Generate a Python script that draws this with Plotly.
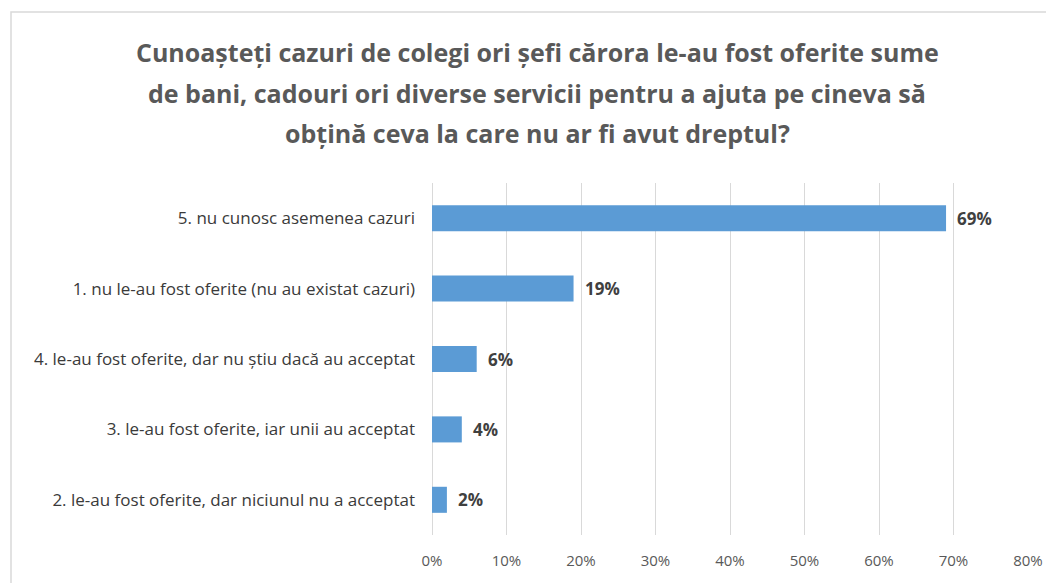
import plotly.graph_objects as go

categories = [
    "5. nu cunosc asemenea cazuri",
    "1. nu le-au fost oferite (nu au existat cazuri)",
    "4. le-au fost oferite, dar nu știu dacă au acceptat",
    "3. le-au fost oferite, iar unii au acceptat",
    "2. le-au fost oferite, dar niciunul nu a acceptat",
]
values = [69, 19, 6, 4, 2]
labels = ["69%", "19%", "6%", "4%", "2%"]
tick_vals = [0, 10, 20, 30, 40, 50, 60, 70, 80]
tick_text = ["0%", "10%", "20%", "30%", "40%", "50%", "60%", "70%", "80%"]
title_lines = [
    "Cunoașteți cazuri de colegi ori șefi cărora le-au fost oferite sume",
    "de bani, cadouri ori diverse servicii pentru a ajuta pe cineva să",
    "obțină ceva la care nu ar fi avut dreptul?",
]

FONT = "Open Sans, sans-serif"

# page body has an 8px margin; work in figure coordinates
W, H = 1046, 575
L, R, T, B = 424, 26, 175, 48
pw, ph = W - L - R, H - T - B


def px_x(x):
    return (x - L) / pw


def px_y(y):
    return (H - B - y) / ph


fig = go.Figure()
fig.add_trace(go.Bar(
    y=categories, x=values, orientation="h",
    marker=dict(color="#5B9BD5", line=dict(width=0)),
    width=0.37, hoverinfo="skip",
))

for c, v, t in zip(categories, values, labels):
    fig.add_annotation(x=v, y=c, text=f"<b>{t}</b>", showarrow=False,
                       xanchor="left", yanchor="middle", xshift=9,
                       font=dict(family=FONT, size=17, color="#404040"))

for i, line in enumerate(title_lines):
    fig.add_annotation(xref="paper", yref="paper", x=px_x(529), y=px_y(44 + 40.5 * i),
                       text=f"<b>{line}</b>", showarrow=False,
                       xanchor="center", yanchor="middle",
                       font=dict(family=FONT, size=25, color="#595959"))

# outer chart frame
fig.add_shape(type="rect", xref="paper", yref="paper",
              x0=px_x(3), x1=px_x(W + 20),
              y0=px_y(H + 20), y1=px_y(4),
              line=dict(color="#D9D9D9", width=1.5), fillcolor="rgba(0,0,0,0)", layer="below")

fig.update_layout(
    width=W, height=H,
    margin=dict(l=L, r=R, t=T, b=B),
    paper_bgcolor="white", plot_bgcolor="white",
    showlegend=False,
    xaxis=dict(range=[0, 80], tickvals=tick_vals, ticktext=tick_text,
               showgrid=True, gridcolor="#D9D9D9", gridwidth=1,
               zeroline=True, zerolinecolor="#D9D9D9", zerolinewidth=1,
               showline=False, ticks="", ticklabelstandoff=15,
               tickfont=dict(family=FONT, size=15, color="#595959")),
    yaxis=dict(autorange="reversed", showgrid=False, zeroline=False,
               showline=False, ticks="", ticklabelstandoff=16,
               tickfont=dict(family=FONT, size=17, color="#3a3a3a")),
    bargap=0.63,
)

fig.write_html("out.html")
